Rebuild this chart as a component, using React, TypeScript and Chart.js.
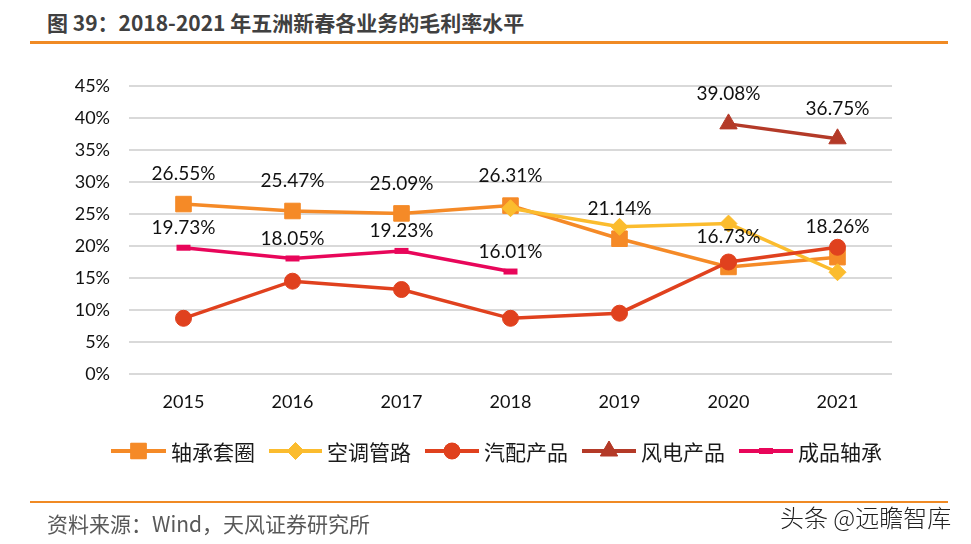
import React, { useEffect, useRef } from 'react';
import { Chart, registerables } from 'chart.js';
import { drawPoint } from 'chart.js/helpers';

Chart.register(...registerables);

const years = ['2015', '2016', '2017', '2018', '2019', '2020', '2021'];
// 轴承套圈
const ringValues = [26.55, 25.47, 25.09, 26.31, 21.14, 16.73, 18.26];
// 空调管路
const acPipeValues = [null, null, null, 25.9, 23.0, 23.5, 15.9];
// 汽配产品
const autoPartValues = [8.7, 14.5, 13.2, 8.7, 9.5, 17.5, 19.8];
// 风电产品
const windValues = [null, null, null, null, null, 39.08, 36.75];
// 成品轴承
const bearingValues = [19.73, 18.05, 19.23, 16.01, null, null, null];

const seriesNames = ['轴承套圈', '空调管路', '汽配产品', '风电产品', '成品轴承'];
const seriesColors = ['#F58A27', '#FBBC2E', '#E0411E', '#B43A28', '#E8065A'];
const yMin = 0;
const yMax = 45;
const yStep = 5;

const FONT = 'Lato, "Noto Sans", sans-serif';
const CJK = '"Noto Sans CJK SC", sans-serif';

const valueLabelPlugin = {
  id: 'valueLabels',
  afterDatasetsDraw(chart: any) {
    const ctx = chart.ctx;
    ctx.save();
    ctx.font = `19px ${FONT}`;
    ctx.fillStyle = '#111';
    ctx.textAlign = 'center';
    ctx.textBaseline = 'middle';
    chart.data.datasets.forEach((ds: any, i: number) => {
      if (!ds.labelOffset) return;
      const meta = chart.getDatasetMeta(i);
      meta.data.forEach((pt: any, j: number) => {
        const v = ds.data[j];
        if (v == null) return;
        ctx.fillText(v.toFixed(2) + '%', pt.x, pt.y - ds.labelOffset);
      });
    });
    ctx.restore();
  },
};

const legendLayout = [
  { x1: 111, x2: 166, tx: 171 },
  { x1: 269, x2: 322, tx: 327 },
  { x1: 425, x2: 479, tx: 484 },
  { x1: 582, x2: 636, tx: 641 },
  { x1: 739, x2: 793, tx: 798 },
];

const customLegendPlugin = {
  id: 'customLegend',
  afterDraw(chart: any) {
    const ctx = chart.ctx;
    const y = 451;
    ctx.save();
    chart.data.datasets.forEach((ds: any) => {
      const L = legendLayout[ds.legendIndex];
      ctx.strokeStyle = ds.borderColor;
      ctx.lineWidth = 4;
      ctx.beginPath();
      ctx.moveTo(L.x1, y);
      ctx.lineTo(L.x2, y);
      ctx.stroke();
      ctx.fillStyle = ds.borderColor;
      ctx.strokeStyle = ds.borderColor;
      ctx.lineWidth = ds.pointBorderWidth;
      drawPoint(ctx, { pointStyle: ds.pointStyle, radius: ds.pointRadius, borderWidth: ds.pointBorderWidth, rotation: 0 }, (L.x1 + L.x2) / 2, y);
      if (ds.pointStyle !== 'line') ctx.fill();
      ctx.fillStyle = '#1a1a1a';
      ctx.font = `21px ${CJK}`;
      ctx.textAlign = 'left';
      ctx.textBaseline = 'middle';
      ctx.fillText(ds.label, L.tx, y + 1);
    });
    ctx.restore();
  },
};

function ChartCanvas() {
  const ref = useRef<HTMLCanvasElement>(null);
  useEffect(() => {
    if (!ref.current) return;
    const mk = (idx: number, data: any[], style: string, radius: number, order: number, labelOffset: number, pbw = 1) => ({
      label: seriesNames[idx],
      data,
      borderColor: seriesColors[idx],
      backgroundColor: seriesColors[idx],
      pointBackgroundColor: seriesColors[idx],
      pointBorderColor: seriesColors[idx],
      pointStyle: style,
      pointRadius: radius,
      pointBorderWidth: pbw,
      borderWidth: 3.5,
      spanGaps: false,
      order,
      labelOffset,
      legendIndex: idx,
    });
    const chart = new Chart(ref.current, {
      type: 'line',
      data: {
        labels: years,
        datasets: [
          mk(0, ringValues, 'rect', 11, 5, 30),
          mk(1, acPipeValues, 'rectRot', 8.5, 4, 0),
          mk(2, autoPartValues, 'circle', 8, 3, 0),
          mk(3, windValues, 'triangle', 10, 2, 30),
          mk(4, bearingValues, 'line', 7, 1, 20, 6),
        ] as any,
      },
      options: {
        animation: false,
        responsive: false,
        layout: { padding: { top: 86, right: 79, bottom: 0, left: 0 } },
        plugins: {
          legend: { display: false },
          tooltip: { enabled: false },
          title: { display: false },
        },
        scales: {
          x: {
            offset: true,
            grid: { display: false, drawTicks: false },
            border: { display: false },
            ticks: { color: '#111', font: { family: FONT, size: 18 }, padding: 17 },
            afterFit: (s: any) => { s.height = 170; },
          },
          y: {
            min: yMin,
            max: yMax,
            grid: { color: '#D9D9D9', lineWidth: 2, drawTicks: false },
            border: { display: false },
            ticks: {
              stepSize: yStep,
              color: '#111',
              font: { family: FONT, size: 18 },
              padding: 19,
              callback: (v: any) => v + '%',
            },
            afterFit: (s: any) => { s.width = 129; },
          },
        },
      },
      plugins: [valueLabelPlugin, customLegendPlugin],
    });
    return () => chart.destroy();
  }, []);
  return <canvas ref={ref} width={971} height={544} style={{ position: 'absolute', left: 0, top: 0 }} />;
}

export default function App() {
  return (
    <div style={{ position: 'fixed', left: 0, top: 0, width: 971, height: 544, background: '#fff', overflow: 'hidden' }}>
      <div style={{ position: 'absolute', left: 47, top: 8, fontFamily: CJK, fontWeight: 700, fontSize: 21, color: '#404040', whiteSpace: 'nowrap', lineHeight: '28px' }}>
        图 39：2018-2021 年五洲新春各业务的毛利率水平
      </div>
      <div style={{ position: 'absolute', left: 30, top: 41, width: 918, height: 3, background: '#F08A24' }} />
      <ChartCanvas />
      <div style={{ position: 'absolute', left: 30, top: 501, width: 918, height: 2, background: '#F08A24' }} />
      <div style={{ position: 'absolute', left: 47, top: 508, fontFamily: CJK, fontSize: 21, color: '#595959', whiteSpace: 'nowrap', lineHeight: '30px' }}>
        资料来源：Wind，天风证券研究所
      </div>
      <div style={{ position: 'absolute', left: 780, top: 502, fontFamily: CJK, fontWeight: 300, fontSize: 24, color: '#222', whiteSpace: 'nowrap', lineHeight: '30px' }}>
        头条 @远瞻智库
      </div>
    </div>
  );
}
